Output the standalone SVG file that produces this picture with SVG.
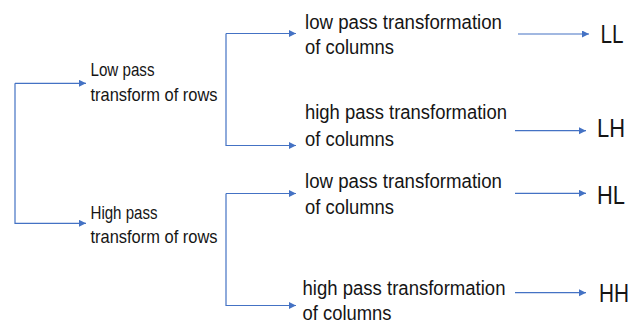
<svg xmlns="http://www.w3.org/2000/svg" width="636" height="326" viewBox="0 0 636 326">
  <style>
    .t { font-family: "Liberation Sans", Arial, sans-serif; fill: #151515; }
    .row { font-size: 18.5px; }
    .col { font-size: 20px; }
    .lab { font-size: 26.5px; }
    .c { fill: none; stroke: #4472C4; stroke-width: 1.2; }
  </style>
  <defs>
    <marker id="ah" markerUnits="userSpaceOnUse" markerWidth="8" markerHeight="8" refX="7" refY="3.5" orient="auto">
      <path d="M0,0 L7,3.5 L0,7 z" fill="#4472C4"/>
    </marker>
  </defs>
  <rect width="636" height="326" fill="#ffffff"/>

  <g id="connectors">
    <path class="c" d="M15 83.3 H86" marker-end="url(#ah)"/>
    <path class="c" d="M15 83.3 V223.3 H86" marker-end="url(#ah)"/>
    <path class="c" d="M226 33.5 H296" marker-end="url(#ah)"/>
    <path class="c" d="M226 33.5 V145.5 H296" marker-end="url(#ah)"/>
    <path class="c" d="M226 193.5 H296" marker-end="url(#ah)"/>
    <path class="c" d="M226 193.5 V305.5 H296" marker-end="url(#ah)"/>
    <path class="c" d="M518 34 H589" marker-end="url(#ah)"/>
    <path class="c" d="M515 130.7 H586" marker-end="url(#ah)"/>
    <path class="c" d="M515 193.3 H586" marker-end="url(#ah)"/>
    <path class="c" d="M515 292.7 H586" marker-end="url(#ah)"/>
  </g>

  <g id="low-rows">
    <text class="t row" x="90.5" y="76" textLength="64" lengthAdjust="spacingAndGlyphs">Low pass</text>
    <text class="t row" x="90.5" y="101" textLength="127" lengthAdjust="spacingAndGlyphs">transform of rows</text>
  </g>
  <g id="high-rows">
    <text class="t row" x="90.5" y="218.5" textLength="67" lengthAdjust="spacingAndGlyphs">High pass</text>
    <text class="t row" x="90.5" y="242.5" textLength="127" lengthAdjust="spacingAndGlyphs">transform of rows</text>
  </g>

  <g id="low-low-cols">
    <text class="t col" x="305" y="29" textLength="197" lengthAdjust="spacingAndGlyphs">low pass transformation</text>
    <text class="t col" x="305" y="53.5" textLength="89" lengthAdjust="spacingAndGlyphs">of columns</text>
  </g>
  <g id="low-high-cols">
    <text class="t col" x="305" y="119" textLength="202" lengthAdjust="spacingAndGlyphs">high pass transformation</text>
    <text class="t col" x="305" y="146" textLength="89" lengthAdjust="spacingAndGlyphs">of columns</text>
  </g>
  <g id="high-low-cols">
    <text class="t col" x="305" y="187.5" textLength="197" lengthAdjust="spacingAndGlyphs">low pass transformation</text>
    <text class="t col" x="305" y="214" textLength="89" lengthAdjust="spacingAndGlyphs">of columns</text>
  </g>
  <g id="high-high-cols">
    <text class="t col" x="302.5" y="295" textLength="203" lengthAdjust="spacingAndGlyphs">high pass transformation</text>
    <text class="t col" x="302.5" y="319.5" textLength="89" lengthAdjust="spacingAndGlyphs">of columns</text>
  </g>

  <g id="LL"><text class="t lab" x="600.5" y="43.3" textLength="23" lengthAdjust="spacingAndGlyphs">LL</text></g>
  <g id="LH"><text class="t lab" x="597" y="136.5" textLength="28" lengthAdjust="spacingAndGlyphs">LH</text></g>
  <g id="HL"><text class="t lab" x="597" y="203.5" textLength="28" lengthAdjust="spacingAndGlyphs">HL</text></g>
  <g id="HH"><text class="t lab" x="599" y="301.5" style="font-size:25px" textLength="30" lengthAdjust="spacingAndGlyphs">HH</text></g>
</svg>
